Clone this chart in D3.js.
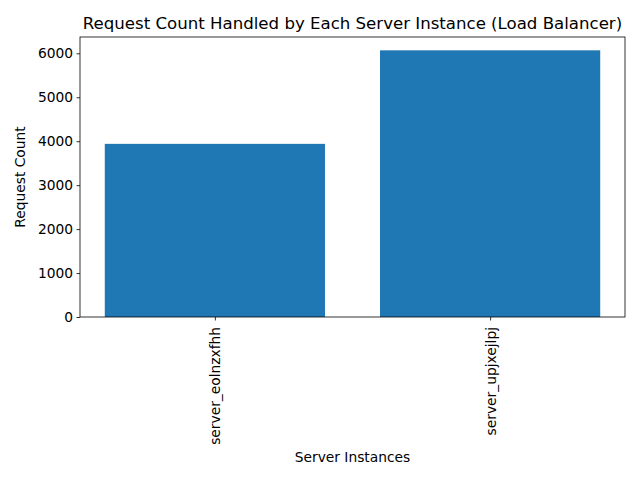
<!DOCTYPE html>
<html><head><meta charset="utf-8">
<script src="https://cdn.jsdelivr.net/npm/d3@7"></script>
<style>body{margin:0;background:#fff}svg{display:block}text{font-family:"DejaVu Sans",sans-serif;fill:#000}</style>
</head><body>
<script>
const categories = ["server_eolnzxfhh", "server_upjxejlpj"];
const requestCounts = [3940, 6068];
const yTicks = [0, 1000, 2000, 3000, 4000, 5000, 6000];
const title = "Request Count Handled by Each Server Instance (Load Balancer)";
const xLabel = "Server Instances";
const yLabel = "Request Count";

const W = 640, H = 480;
const m = {left: 80, right: 625, top: 37, bottom: 317};
const fs = "13.8px";
const svg = d3.select("body").append("svg").attr("width", W).attr("height", H);

const n = categories.length;
const x = d3.scaleLinear().domain([-0.4 - 0.05 * (n - 1 + 0.8), n - 1 + 0.4 + 0.05 * (n - 1 + 0.8)]).range([m.left, m.right]);
const ymax = d3.max(requestCounts) * 1.05;
const y = d3.scaleLinear().domain([0, ymax]).range([m.bottom, m.top]);

svg.selectAll("rect.bar").data(requestCounts).join("rect")
  .attr("class", "bar")
  .attr("x", (d, i) => x(i - 0.4))
  .attr("width", (d, i) => x(i + 0.4) - x(i - 0.4))
  .attr("y", d => y(d))
  .attr("height", d => y(0) - y(d))
  .attr("fill", "#1f77b4");

// y axis
const yAxis = d3.axisLeft(y).tickValues(yTicks).tickSize(3.5).tickPadding(3.5).tickFormat(d3.format("d"));
const gy = svg.append("g").attr("transform", `translate(${m.left},0)`).call(yAxis);
gy.select(".domain").remove();
gy.selectAll("text").style("font-size", fs).style("font-family", "DejaVu Sans");
gy.selectAll("line").attr("stroke", "#000").attr("stroke-width", 0.8);

// x axis
const xAxis = d3.axisBottom(x).tickValues(d3.range(n)).tickFormat(i => categories[i]).tickSize(3.5).tickPadding(3.5);
const gx = svg.append("g").attr("transform", `translate(0,${m.bottom})`).call(xAxis);
gx.select(".domain").remove();
gx.selectAll("line").attr("stroke", "#000").attr("stroke-width", 0.8);
gx.selectAll("text")
  .style("font-size", fs).style("font-family", "DejaVu Sans")
  .attr("text-anchor", "end").attr("dy", null)
  .attr("transform", "translate(0,10) rotate(-90)")
  .attr("x", 0).attr("y", 0).attr("dominant-baseline", "central");

// frame
svg.append("rect").attr("x", m.left).attr("y", m.top).attr("width", m.right - m.left).attr("height", m.bottom - m.top)
  .attr("fill", "none").attr("stroke", "#000").attr("stroke-width", 0.8);

svg.append("text").attr("x", (m.left + m.right) / 2).attr("y", m.top - 8).attr("text-anchor", "middle")
  .style("font-size", "16.6px").text(title);
svg.append("text").attr("x", (m.left + m.right) / 2).attr("y", 462).attr("text-anchor", "middle")
  .style("font-size", fs).text(xLabel);
svg.append("text").attr("transform", `translate(25,${(m.top + m.bottom) / 2}) rotate(-90)`).attr("text-anchor", "middle")
  .style("font-size", fs).text(yLabel);
</script>
</body></html>
